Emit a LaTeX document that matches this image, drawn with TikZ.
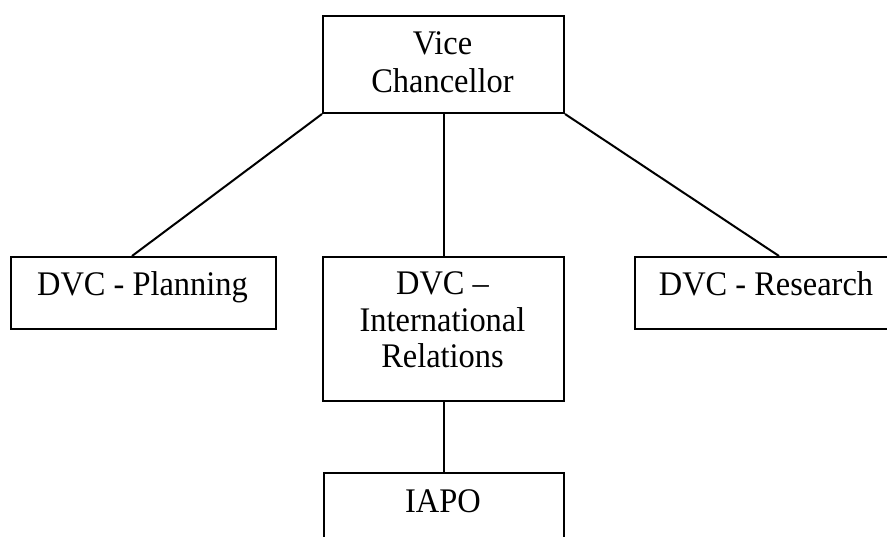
\documentclass[tikz,border=0pt]{standalone}
\usepackage{fontspec}
\setmainfont[FakeStretch=0.94]{Liberation Serif}
\usetikzlibrary{calc}
\begin{document}
\begin{tikzpicture}[x=1pt,y=-1pt,
  orgbox/.style={draw,line width=2pt,rectangle,inner sep=0pt,anchor=north west},
  link/.style={line width=2pt},
  label/.style={anchor=base,inner sep=0pt,align=center,font=\fontsize{34.5}{37}\selectfont}]
\useasboundingbox (0,0) rectangle (887,537);
\clip (0,0) rectangle (887,537);
% boxes
\node[orgbox,minimum width=241pt,minimum height=97pt] (vc) at (322,15) {};
\node[orgbox,minimum width=265pt,minimum height=72pt] (plan) at (10,256) {};
\node[orgbox,minimum width=241pt,minimum height=144pt] (intl) at (322,256) {};
\node[orgbox,minimum width=264pt,minimum height=72pt] (res) at (634,256) {};
\node[orgbox,minimum width=240pt,minimum height=120pt] (iapo) at (323,472) {};
% texts
\node[label] (vct1) at (442.5,55) {Vice};
\node[label] (vct2) at (442.5,93) {Chancellor};
\node[label] (plant) at (142.5,296) {DVC - Planning};
\node[label] (intlt1) at (442.5,295) {DVC –};
\node[label] (intlt2) at (442.5,332) {International};
\node[label] (intlt3) at (442.5,368) {Relations};
\node[label] (rest) at (766,296) {DVC - Research};
\node[label] (iapot) at (443,512) {IAPO};
% connectors
\draw[link] (vc.south west) -- ($(plan.north west)!0.457!(plan.north east)$);
\draw[link] (vc.south) -- (intl.north);
\draw[link] (vc.south east) -- ($(res.north west)!0.545!(res.north east)$);
\draw[link] (intl.south) -- (iapo.north -| intl.south);
\end{tikzpicture}
\end{document}
